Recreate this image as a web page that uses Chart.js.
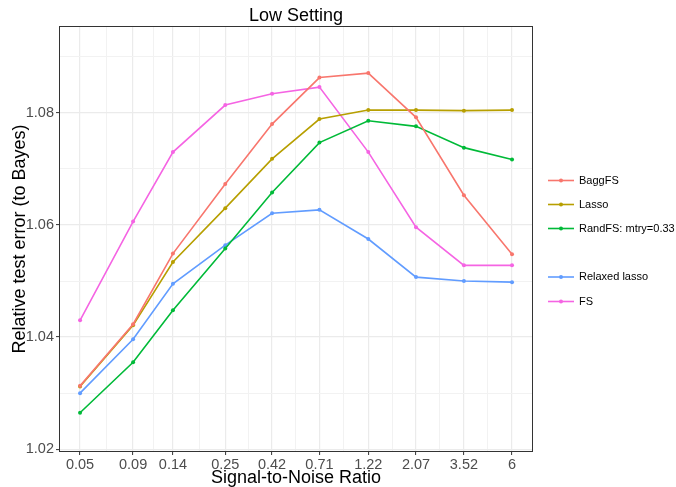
<!DOCTYPE html>
<html>
<head>
<meta charset="utf-8">
<script src="https://cdn.jsdelivr.net/npm/chart.js@4"></script>
<style>
  html, body { margin: 0; padding: 0; background: #fff; }
  canvas { display: block; }
</style>
</head>
<body>
<canvas id="chartLow" width="676" height="487" style="width:676px;height:487px"></canvas>
<script>
// values
const snr = [0.05, 0.09, 0.14, 0.25, 0.42, 0.71, 1.22, 2.07, 3.52, 6];

const baggFS = [1.0313, 1.0423, 1.0549, 1.0673, 1.0780, 1.0863, 1.0871, 1.0792, 1.0653, 1.0548];
const lasso = [1.0312, 1.0421, 1.0534, 1.0630, 1.0718, 1.0789, 1.0805, 1.0805, 1.0804, 1.0805];
const randFS = [1.0265, 1.0355, 1.0448, 1.0558, 1.0658, 1.0747, 1.0786, 1.0776, 1.0738, 1.0717];
const relaxedLasso = [1.0300, 1.0396, 1.0495, 1.0564, 1.0621, 1.0627, 1.0575, 1.0507, 1.0500, 1.0498];
const fs = [1.0430, 1.0606, 1.0730, 1.0814, 1.0834, 1.0846, 1.0730, 1.0596, 1.0528, 1.0528];

const yMajor = [1.02, 1.04, 1.06, 1.08];
const yMinor = [1.03, 1.05, 1.07, 1.09];

const FONT = "'Liberation Sans', Arial, sans-serif";

const series = [
    { label: "BaggFS", data: baggFS, color: "#F8766D" },
    { label: "Lasso", data: lasso, color: "#B79F00" },
    { label: "RandFS: mtry=0.33", data: randFS, color: "#00BA38" },
    { label: "Relaxed lasso", data: relaxedLasso, color: "#619CFF" },
    { label: "FS", data: fs, color: "#F564E3" }
];

// minor x grid sits half way (in log space) between the labelled ticks
const xMinor = [];
for (let i = 0; i < snr.length - 1; i++) xMinor.push(Math.sqrt(snr[i] * snr[i + 1]));

const isMajorY = v => yMajor.some(m => Math.abs(m - v) < 1e-6);
const isMajorX = v => snr.some(m => Math.abs(m - v) < 1e-9);

const datasets = series.map(s => ({
    label: s.label,
    data: snr.map((x, i) => ({ x: x, y: s.data[i] })),
    borderColor: s.color,
    backgroundColor: s.color,
    pointBackgroundColor: s.color,
    pointBorderColor: s.color,
    borderWidth: 1.6,
    pointRadius: 2,
    pointBorderWidth: 0,
    tension: 0,
    fill: false
}));

// legend slots, with the empty slot ggplot left between RandFS and Relaxed lasso
const legendRows = [180.5, 204.5, 228.5, 277, 301.5];

const decor = {
    id: "decor",
    afterDraw(chart) {
        const c = chart.ctx;
        const a = chart.chartArea;
        c.save();
        // panel border
        c.strokeStyle = "#333333";
        c.lineWidth = 1;
        c.strokeRect(Math.round(a.left) + 0.5, Math.round(a.top) + 0.5,
            Math.round(a.right - a.left) - 1, Math.round(a.bottom - a.top) - 1);

        c.fillStyle = "#000";
        c.textAlign = "center";
        c.textBaseline = "alphabetic";
        c.font = "18px " + FONT;
        c.fillText("Low Setting", (a.left + a.right) / 2, 21);
        c.fillText("Signal-to-Noise Ratio", (a.left + a.right) / 2, 483);

        c.save();
        c.translate(25, (a.top + a.bottom) / 2);
        c.rotate(-Math.PI / 2);
        c.fillText("Relative test error (to Bayes)", 0, 0);
        c.restore();

        // legend
        c.font = "11px " + FONT;
        c.textAlign = "left";
        c.textBaseline = "middle";
        series.forEach((s, i) => {
            const y = legendRows[i];
            c.strokeStyle = s.color;
            c.lineWidth = 1.6;
            c.beginPath();
            c.moveTo(548, y);
            c.lineTo(574, y);
            c.stroke();
            c.fillStyle = s.color;
            c.beginPath();
            c.arc(561, y, 2, 0, Math.PI * 2);
            c.fill();
            c.fillStyle = "#000";
            c.fillText(s.label, 579, y);
        });
        c.restore();
    }
};

const config = {
    type: "line",
    data: { datasets: datasets },
    options: {
        responsive: false,
        animation: false,
        devicePixelRatio: 1,
        layout: { padding: { left: 0, top: 26, right: 143, bottom: 0 } },
        plugins: {
            legend: { display: false },
            title: { display: false },
            tooltip: { enabled: false }
        },
        scales: {
            x: {
                type: "logarithmic",
                min: 0.0396,
                max: 7.57,
                afterBuildTicks: scale => {
                    scale.ticks = snr.concat(xMinor).sort((p, q) => p - q).map(v => ({ value: v }));
                },
                afterFit: scale => { scale.height = 35; },
                border: { display: false },
                grid: {
                    color: ctx => isMajorX(ctx.tick.value) ? "#EBEBEB" : "#F2F2F2",
                    lineWidth: ctx => isMajorX(ctx.tick.value) ? 1.2 : 1,
                    tickColor: ctx => isMajorX(ctx.tick.value) ? "#333333" : "rgba(0,0,0,0)",
                    tickLength: 3,
                    tickWidth: 1
                },
                ticks: {
                    autoSkip: false,
                    maxRotation: 0,
                    padding: 1,
                    color: "#4D4D4D",
                    font: { family: FONT, size: 14.5 },
                    callback: v => isMajorX(v) ? String(v) : ""
                }
            },
            y: {
                type: "linear",
                min: 1.0195,
                max: 1.0955,
                afterBuildTicks: scale => {
                    scale.ticks = yMajor.concat(yMinor).sort((p, q) => p - q).map(v => ({ value: v }));
                },
                afterFit: scale => { scale.width = 59; },
                border: { display: false },
                grid: {
                    color: ctx => isMajorY(ctx.tick.value) ? "#EBEBEB" : "#F2F2F2",
                    lineWidth: ctx => isMajorY(ctx.tick.value) ? 1.2 : 1,
                    tickColor: ctx => isMajorY(ctx.tick.value) ? "#333333" : "rgba(0,0,0,0)",
                    tickLength: 3,
                    tickWidth: 1
                },
                ticks: {
                    padding: 2,
                    color: "#4D4D4D",
                    font: { family: FONT, size: 14.5 },
                    callback: v => isMajorY(v) ? v.toFixed(2) : ""
                }
            }
        }
    },
    plugins: [decor]
};

const ctx = document.getElementById("chartLow");
const lowChart = new Chart(ctx, config);
</script>
</body>
</html>
